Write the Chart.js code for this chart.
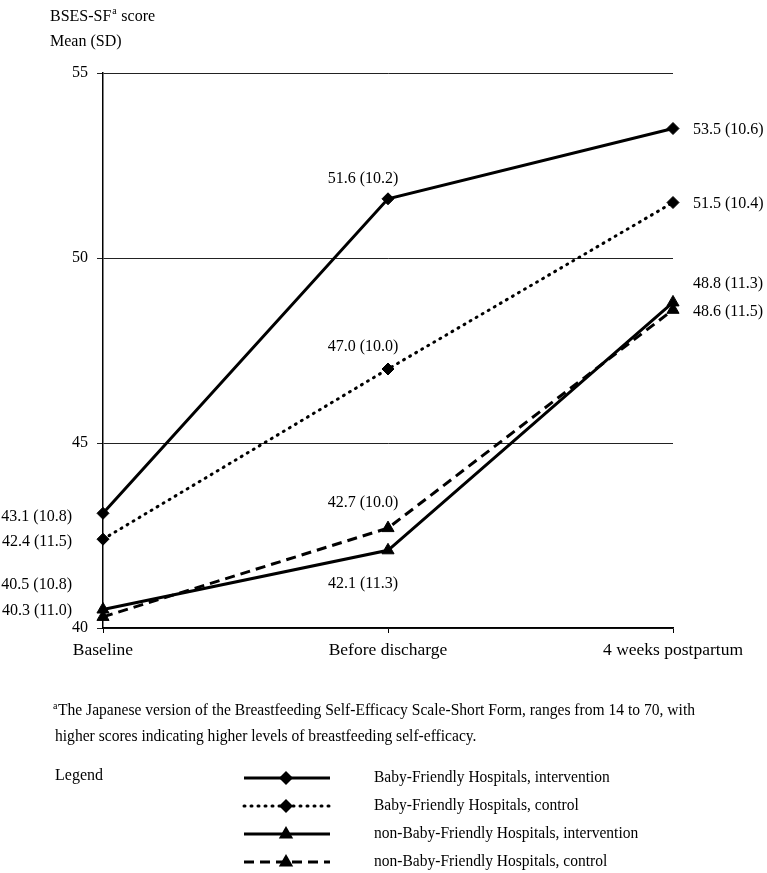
<!DOCTYPE html>
<html>
<head>
<meta charset="utf-8">
<script src="https://cdn.jsdelivr.net/npm/chart.js@4"></script>
<style>
  html, body { margin: 0; padding: 0; background: #fff; }
  canvas { display: block; }
</style>
</head>
<body>
<canvas id="chart" width="767" height="873"></canvas>
<script>
const categories = ['Baseline', 'Before discharge', '4 weeks postpartum'];
const yTicks = [40, 45, 50, 55];

const bfIntervention = [43.1, 51.6, 53.5];
const bfControl = [42.4, 47.0, 51.5];
const nonBfIntervention = [40.5, 42.1, 48.8];
const nonBfControl = [40.3, 42.7, 48.6];

const sdBfIntervention = [10.8, 10.2, 10.6];
const sdBfControl = [11.5, 10.0, 10.4];
const sdNonBfIntervention = [10.8, 11.3, 11.3];
const sdNonBfControl = [11.0, 10.0, 11.5];

const seriesNames = [
  'Baby-Friendly Hospitals, intervention',
  'Baby-Friendly Hospitals, control',
  'non-Baby-Friendly Hospitals, intervention',
  'non-Baby-Friendly Hospitals, control'
];

const FONT = '"Liberation Serif", "Times New Roman", serif';

// where each "mean (SD)" label sits relative to its point
const labelPlace = [
  [[-31, 3, 'right'], [-25, -20, 'center'], [20, 1, 'left']],
  [[-31, 3, 'right'], [-25, -22, 'center'], [20, 1, 'left']],
  [[-31, -25, 'right'], [-25, 33, 'center'], [20, -19, 'left']],
  [[-31, -6, 'right'], [-25, -25, 'center'], [20, 2, 'left']]
];

const sds = [sdBfIntervention, sdBfControl, sdNonBfIntervention, sdNonBfControl];

const valueLabels = {
  id: 'valueLabels',
  afterDatasetsDraw(chart) {
    const ctx = chart.ctx;
    ctx.save();
    ctx.font = '16px ' + FONT;
    ctx.fillStyle = '#000';
    ctx.textBaseline = 'middle';
    chart.data.datasets.forEach((ds, i) => {
      chart.getDatasetMeta(i).data.forEach((pt, j) => {
        const p = labelPlace[i][j];
        ctx.textAlign = p[2];
        ctx.fillText(ds.data[j].toFixed(1) + ' (' + sds[i][j].toFixed(1) + ')', pt.x + p[0], pt.y + p[1]);
      });
    });
    ctx.restore();
  }
};

function drawMarker(ctx, style, x, y) {
  ctx.beginPath();
  if (style === 'rectRot') {
    const r = 7;
    ctx.moveTo(x, y - r); ctx.lineTo(x + r, y); ctx.lineTo(x, y + r); ctx.lineTo(x - r, y);
  } else {
    const r = 8;
    ctx.moveTo(x, y - r); ctx.lineTo(x + r * 0.9, y + r * 0.55); ctx.lineTo(x - r * 0.9, y + r * 0.55);
  }
  ctx.closePath();
  ctx.fill();
}

const textAndLegend = {
  id: 'textAndLegend',
  afterDraw(chart) {
    const ctx = chart.ctx;
    ctx.save();
    ctx.fillStyle = '#000';
    ctx.textBaseline = 'middle';
    ctx.textAlign = 'left';

    // axis title
    ctx.font = '16px ' + FONT;
    ctx.fillText('BSES-SF', 50, 17);
    let w = ctx.measureText('BSES-SF').width;
    ctx.font = '10px ' + FONT;
    ctx.fillText('a', 50 + w + 1, 11);
    ctx.font = '16px ' + FONT;
    ctx.fillText(' score', 50 + w + 6, 17);
    ctx.fillText('Mean (SD)', 50, 42);

    // footnote
    ctx.font = '10px ' + FONT;
    ctx.fillText('a', 53, 706);
    ctx.font = '16px ' + FONT;
    const line1 = 'The Japanese version of the Breastfeeding Self-Efficacy Scale-Short Form, ranges from 14 to 70, with';
    const line2 = 'higher scores indicating higher levels of breastfeeding self-efficacy.';
    const sx = (695 - 58) / ctx.measureText(line1).width;
    ctx.save(); ctx.translate(58, 711); ctx.scale(sx, 1); ctx.fillText(line1, 0, 0); ctx.restore();
    ctx.save(); ctx.translate(55, 737); ctx.scale(sx, 1); ctx.fillText(line2, 0, 0); ctx.restore();

    // legend
    ctx.font = '16px ' + FONT;
    ctx.fillText('Legend', 55, 776);
    const rows = [778, 806, 834, 862];
    chart.data.datasets.forEach((ds, i) => {
      const y = rows[i];
      ctx.save();
      ctx.strokeStyle = ds.borderColor;
      ctx.lineWidth = ds.borderWidth;
      ctx.lineCap = ds.borderCapStyle;
      ctx.setLineDash(ds.borderDash);
      ctx.beginPath();
      ctx.moveTo(244, y); ctx.lineTo(330, y);
      ctx.stroke();
      ctx.restore();
      drawMarker(ctx, ds.pointStyle, 286, y);
      ctx.save(); ctx.translate(374, y); ctx.scale(0.97, 1); ctx.fillText(ds.label, 0, 0); ctx.restore();
    });
    ctx.restore();
  }
};

function series(label, data, dash, cap, style, radius) {
  return {
    label: label,
    data: data,
    borderColor: '#000',
    backgroundColor: '#000',
    borderWidth: 3,
    borderDash: dash,
    borderCapStyle: cap,
    pointStyle: style,
    pointRadius: radius,
    pointBorderWidth: 1,
    pointBackgroundColor: '#000',
    pointBorderColor: '#000',
    tension: 0,
    clip: false
  };
}

new Chart(document.getElementById('chart'), {
  type: 'line',
  data: {
    labels: categories,
    datasets: [
      series(seriesNames[0], bfIntervention, [], 'butt', 'rectRot', 6),
      series(seriesNames[1], bfControl, [1, 6], 'round', 'rectRot', 6),
      series(seriesNames[2], nonBfIntervention, [], 'butt', 'triangle', 7),
      series(seriesNames[3], nonBfControl, [10, 6], 'butt', 'triangle', 7)
    ]
  },
  options: {
    responsive: false,
    animation: false,
    events: [],
    layout: { padding: { left: 0, top: 73, right: 94, bottom: 205 } },
    plugins: { legend: { display: false }, tooltip: { enabled: false } },
    scales: {
      x: {
        offset: false,
        afterFit(scale) { scale.height = 40; },
        grid: { drawOnChartArea: false, drawTicks: true, tickLength: 5, color: '#000' },
        border: { color: '#000', width: 1.5 },
        ticks: { color: '#000', font: { family: FONT, size: 17.5 }, padding: 7, maxRotation: 0 }
      },
      y: {
        min: 40,
        max: 55,
        afterFit(scale) { scale.width = 103; },
        afterBuildTicks(scale) { scale.ticks = yTicks.map(v => ({ value: v })); },
        grid: { color: '#222', lineWidth: 1, tickLength: 6 },
        border: { color: '#000', width: 1.5 },
        ticks: { color: '#000', font: { family: FONT, size: 16 }, padding: 9 }
      }
    }
  },
  plugins: [valueLabels, textAndLegend]
});
</script>
</body>
</html>
